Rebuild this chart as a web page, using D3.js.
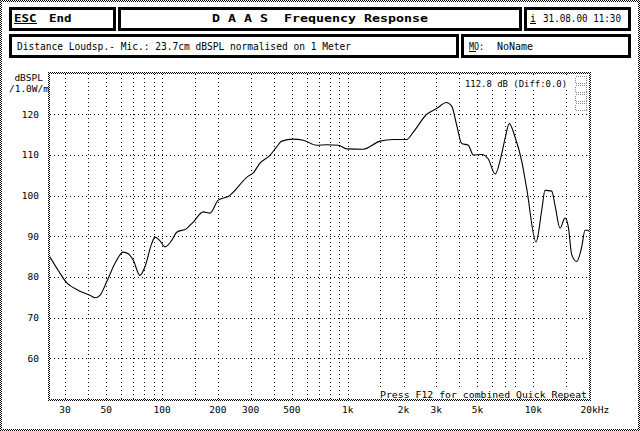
<!DOCTYPE html>
<html><head><meta charset="utf-8">
<script src="https://cdn.jsdelivr.net/npm/d3@7"></script>
<style>html,body{margin:0;padding:0;background:#fff;}svg{display:block;}text{white-space:pre;}</style>
</head><body>
<script>
// ---- data ----
const curveFreq = [24.6,27.6,30.6,35.4,40.9,43.5,46.3,50.3,55.7,61.8,65.8,70.0,76.0,80.9,87.9,91.6,97,103.7,112.7,119.9,135.6,147.2,166.7,181.1,200.9,227.3,291.3,310.0,336.9,381.3,414.5,441.0,509.2,576.6,680.8,770.7,890.1,988,1213,1493,1761,2079,2256,2665,3016,3398,3634,3867,4114,4465,4750,5272,5721,6219,6755,7039,7424,7969,8660,9214,10340,11100,11560,12570,13090,13930,14820,15440,16100,17130,18230,18990,19710,20200];
const curveDb   = [85.3,81.6,78.6,76.7,75.5,74.9,75.5,78.8,83.3,86.1,85.7,84.1,80.4,82.5,88.2,89.8,89.0,87.4,89.0,91.0,91.9,93.5,96.0,95.7,98.9,99.8,104.8,105.6,108.0,109.9,112.0,113.4,113.9,113.6,112.4,112.5,112.4,111.5,111.4,113.4,113.8,113.8,115.6,120.0,121.4,122.9,122.0,117.3,112.8,112.4,110.0,110.1,109.0,105.3,110.3,114.0,117.7,114.4,108.5,101.7,88.6,96.4,101.3,101.1,97.6,92.0,94.5,92.3,85.5,83.8,87.4,91.5,91.5,90.8];
const yTicks = [60,70,80,90,100,110,120];
const gridFreqs = [30,40,50,60,70,80,90,100,150,200,300,400,500,600,700,800,900,1000,1500,2000,3000,4000,5000,6000,7000,8000,10000,15000];
const xTickFreqs = [30,50,100,200,300,500,1000,2000,3000,5000,10000,20000];
const xTickLabels = ["30","50","100","200","300","500","1k","2k","3k","5k","10k","20kHz"];

const W = 640, H = 431;
const FONT = "'DejaVu Sans Mono', 'Liberation Mono', monospace";
const svg = d3.select("body").append("svg").attr("width", W).attr("height", H)
  .style("font-family", FONT);

const defs = svg.append("defs");
const pat = defs.append("pattern").attr("id","chk").attr("patternUnits","userSpaceOnUse")
  .attr("width",2).attr("height",2);
pat.append("rect").attr("x",0).attr("y",0).attr("width",1).attr("height",1).attr("fill","#000");
pat.append("rect").attr("x",1).attr("y",1).attr("width",1).attr("height",1).attr("fill","#000");

svg.append("rect").attr("width",W).attr("height",H).attr("fill","#fff");

function band(x0,y0,x1,y1,t){
  const g = svg.append("g").attr("shape-rendering","crispEdges");
  g.append("rect").attr("x",x0).attr("y",y0).attr("width",x1-x0).attr("height",t).attr("fill","url(#chk)");
  g.append("rect").attr("x",x0).attr("y",y1-t).attr("width",x1-x0).attr("height",t).attr("fill","url(#chk)");
  g.append("rect").attr("x",x0).attr("y",y0).attr("width",t).attr("height",y1-y0).attr("fill","url(#chk)");
  g.append("rect").attr("x",x1-t).attr("y",y0).attr("width",t).attr("height",y1-y0).attr("fill","url(#chk)");
}
// outer frame
band(0,0,W,H,2);

// header boxes
function box(x0,y0,x1,y1){
  svg.append("rect").attr("x",x0+1.5).attr("y",y0+1.5).attr("width",x1-x0-3).attr("height",y1-y0-3)
    .attr("fill","none").attr("stroke","#000").attr("stroke-width",3).attr("shape-rendering","crispEdges");
}
box(9,7,116,31); box(118,7,522,31); box(524,7,631,31);
box(9,34,459,58); box(461,34,631,58);

function txt(s,x,y,opts={}){
  const t = svg.append("text").attr("x",x).attr("y",y).text(s)
    .attr("font-size",opts.size||10).attr("fill","#000").attr("xml:space","preserve");
  if(opts.bold) t.attr("font-weight","bold");
  if(opts.anchor) t.attr("text-anchor",opts.anchor);
  if(opts.len){ t.attr("textLength",opts.len).attr("lengthAdjust","spacingAndGlyphs"); }
  return t;
}
function uline(x0,x1,y){
  svg.append("rect").attr("x",x0).attr("y",y).attr("width",x1-x0).attr("height",1).attr("fill","#000");
}
txt("ESC",14,22,{bold:true,size:11,len:22.5});
uline(14,37,23);
txt("End",49,22,{bold:true,size:11,len:22.5});
txt("D A A S  Frequency Response",212,22,{bold:true,size:11,len:216});
txt("i",530,22,{size:10});
uline(530,536,23);
txt("31.08.00 11:30",543,22,{size:10,len:78});
txt("Distance Loudsp.- Mic.: 23.7cm dBSPL normalised on 1 Meter",17,50,{size:10,len:334});
txt("MO:",469,50,{size:10,len:15});
uline(469,476,51);
txt("NoName",497,50,{size:10,len:36});

// scales
const x = d3.scaleLog().domain([24.6, 20200]).range([49, 590]);
const y = d3.scaleLinear().domain([50, 130]).range([399, 73.6]);

const PL = 50, PR = 589, PT = 74, PB = 399;

// grid
const grid = svg.append("g").attr("shape-rendering","crispEdges");
grid.selectAll("line.h").data(yTicks).join("line")
  .attr("x1",PL).attr("x2",PR)
  .attr("y1",d=>Math.round(y(d))+0.5).attr("y2",d=>Math.round(y(d))+0.5)
  .attr("stroke","#000").attr("stroke-width",1).attr("stroke-dasharray","1,3");
grid.selectAll("line.v").data(gridFreqs).join("line")
  .attr("x1",d=>Math.round(x(d))+0.5).attr("x2",d=>Math.round(x(d))+0.5)
  .attr("y1",PT).attr("y2",PB)
  .attr("stroke","#000").attr("stroke-width",1).attr("stroke-dasharray","1,3");

// plot frame
band(48,72,591,401,2);

// y labels
svg.append("g").selectAll("text").data(yTicks).join("text")
  .attr("x",39).attr("y",d=>y(d)+3.5).attr("text-anchor","end")
  .attr("font-size",9.5).text(d=>d);
txt("dBSPL",43,81,{size:9.5,anchor:"end"});
txt("/1.0W/m",49,92,{size:9.5,anchor:"end"});

// x labels
svg.append("g").selectAll("text").data(xTickFreqs).join("text")
  .attr("x",(d,i)=> i===xTickFreqs.length-1 ? x(d)-8.6 : x(d))
  .attr("y",413)
  .attr("text-anchor",(d,i)=> i===xTickFreqs.length-1 ? "start" : "middle")
  .attr("font-size",9.5).text((d,i)=>xTickLabels[i]);

// info texts with white backgrounds
svg.append("rect").attr("x",463).attr("y",78).attr("width",106).attr("height",11).attr("fill","#fff");
txt("112.8 dB (Diff:0.0)",465,87,{size:9.5,len:102});
svg.append("rect").attr("x",378).attr("y",389).attr("width",210).attr("height",10).attr("fill","#fff");
txt("Press F12 for combined Quick Repeat",380,397.5,{size:9.5,len:207});

// small icon
const ic = svg.append("g").attr("shape-rendering","crispEdges");
[0,1,2,3].forEach(i=>{
  ic.append("rect").attr("x",575.5).attr("y",76.5+i*9).attr("width",11).attr("height",7)
    .attr("fill","none").attr("stroke","#888").attr("stroke-width",1).attr("stroke-dasharray","1,1");
});

// curve
defs.append("clipPath").attr("id","clip").append("rect")
  .attr("x",PL).attr("y",PT).attr("width",PR-PL).attr("height",PB-PT);
const pts = curveFreq.map((f,i)=>[f,curveDb[i]]);
const line = d3.line().x(d=>x(d[0])).y(d=>y(d[1])).curve(d3.curveMonotoneX);
svg.append("path").attr("d",line(pts)).attr("clip-path","url(#clip)")
  .attr("fill","none").attr("stroke","#000").attr("stroke-width",1.1);
</script>
</body></html>
